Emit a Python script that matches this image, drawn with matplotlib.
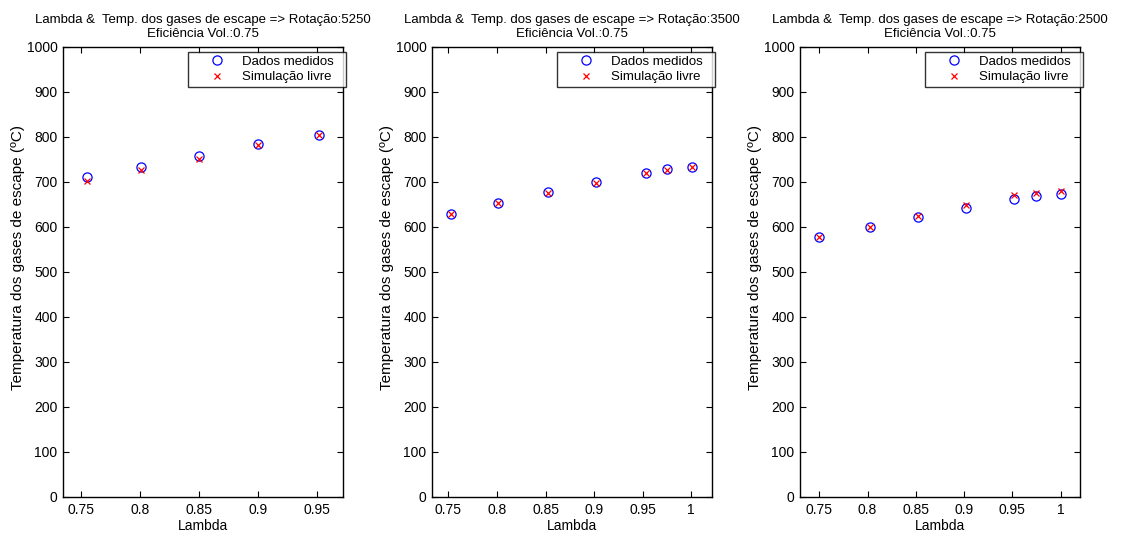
import matplotlib
matplotlib.use("Agg")
import matplotlib.pyplot as plt

plt.rcParams['font.family'] = ['Liberation Sans', 'DejaVu Sans']
plt.rcParams['font.size'] = 10

# Rotação 5250
lam_5250 = [0.755, 0.801, 0.850, 0.900, 0.952]
med_5250 = [709, 732, 757, 783, 804]
sim_5250 = [701, 726, 751, 782, 804]

# Rotação 3500
lam_3500 = [0.753, 0.801, 0.853, 0.902, 0.953, 0.975, 1.001]
med_3500 = [627, 653, 676, 698, 720, 727, 732]
sim_3500 = [628, 653, 675, 697, 720, 726, 732]

# Rotação 2500
lam_2500 = [0.750, 0.802, 0.852, 0.902, 0.952, 0.974, 1.000]
med_2500 = [577, 599, 622, 642, 662, 668, 672]
sim_2500 = [577, 598, 623, 647, 670, 674, 680]

rotacoes = ["5250", "3500", "2500"]
lambdas = [lam_5250, lam_3500, lam_2500]
medidos = [med_5250, med_3500, med_2500]
simulados = [sim_5250, sim_3500, sim_2500]
xlims = [(0.7347, 0.972), (0.7332, 1.0213), (0.730, 1.020)]
xticks = [[0.75, 0.8, 0.85, 0.9, 0.95],
          [0.75, 0.8, 0.85, 0.9, 0.95, 1.0],
          [0.75, 0.8, 0.85, 0.9, 0.95, 1.0]]
yticks = list(range(0, 1001, 100))

W, H = 1125, 537
fig = plt.figure(figsize=(W / 100, H / 100), dpi=100)
lefts = [63, 432, 800]
AW, AH = 280, 450

for i in range(3):
    ax = fig.add_axes([lefts[i] / W, 40.5 / H, AW / W, AH / H])
    ax.plot(lambdas[i], medidos[i], 'o', mfc='none', mec='blue',
            ms=6.6, mew=0.9, label='Dados medidos')
    ax.plot(lambdas[i], simulados[i], 'x', color='red',
            ms=5, mew=0.9, label='Simulação livre')
    ax.set_xlim(*xlims[i])
    ax.set_ylim(0, 1000)
    ax.set_xticks(xticks[i])
    ax.set_xticklabels([f"{t:g}" for t in xticks[i]])
    ax.set_yticks(yticks)
    ax.tick_params(direction='in', top=True, right=True, length=4,
                   width=0.8, labelsize=10)
    ax.tick_params(axis='x', pad=5)
    ax.tick_params(axis='y', pad=4)
    for s in ax.spines.values():
        s.set_linewidth(1.0)
    ax.set_xlabel('Lambda', fontsize=10)
    ax.xaxis.set_label_coords(0.5, -22 / AH, transform=ax.transAxes)
    ax.set_ylabel('Temperatura dos gases de escape (ºC)', fontsize=11)
    ax.yaxis.set_label_coords(-38 / AW, 0.5 + 14 / AH,
                              transform=ax.transAxes)
    ax.set_title('Lambda &  Temp. dos gases de escape => Rotação:'
                 + rotacoes[i] + '\nEficiência Vol.:0.75',
                 fontsize=9.5, pad=7, linespacing=1.2)
    # legend box spans a fixed strip at the upper right, content left-aligned
    x0 = 125 / AW
    leg = ax.legend(loc='upper left',
                    bbox_to_anchor=(x0, 0.0, 1.0096 - x0, 1 - 5 / AH),
                    mode='expand', fontsize=9.5, frameon=True,
                    fancybox=False, edgecolor='black', borderpad=0.3,
                    labelspacing=0.25, handlelength=3.8, handletextpad=0.0,
                    borderaxespad=0.0)
    leg.get_frame().set_linewidth(1.0)

fig.savefig('out.png', dpi=100)
